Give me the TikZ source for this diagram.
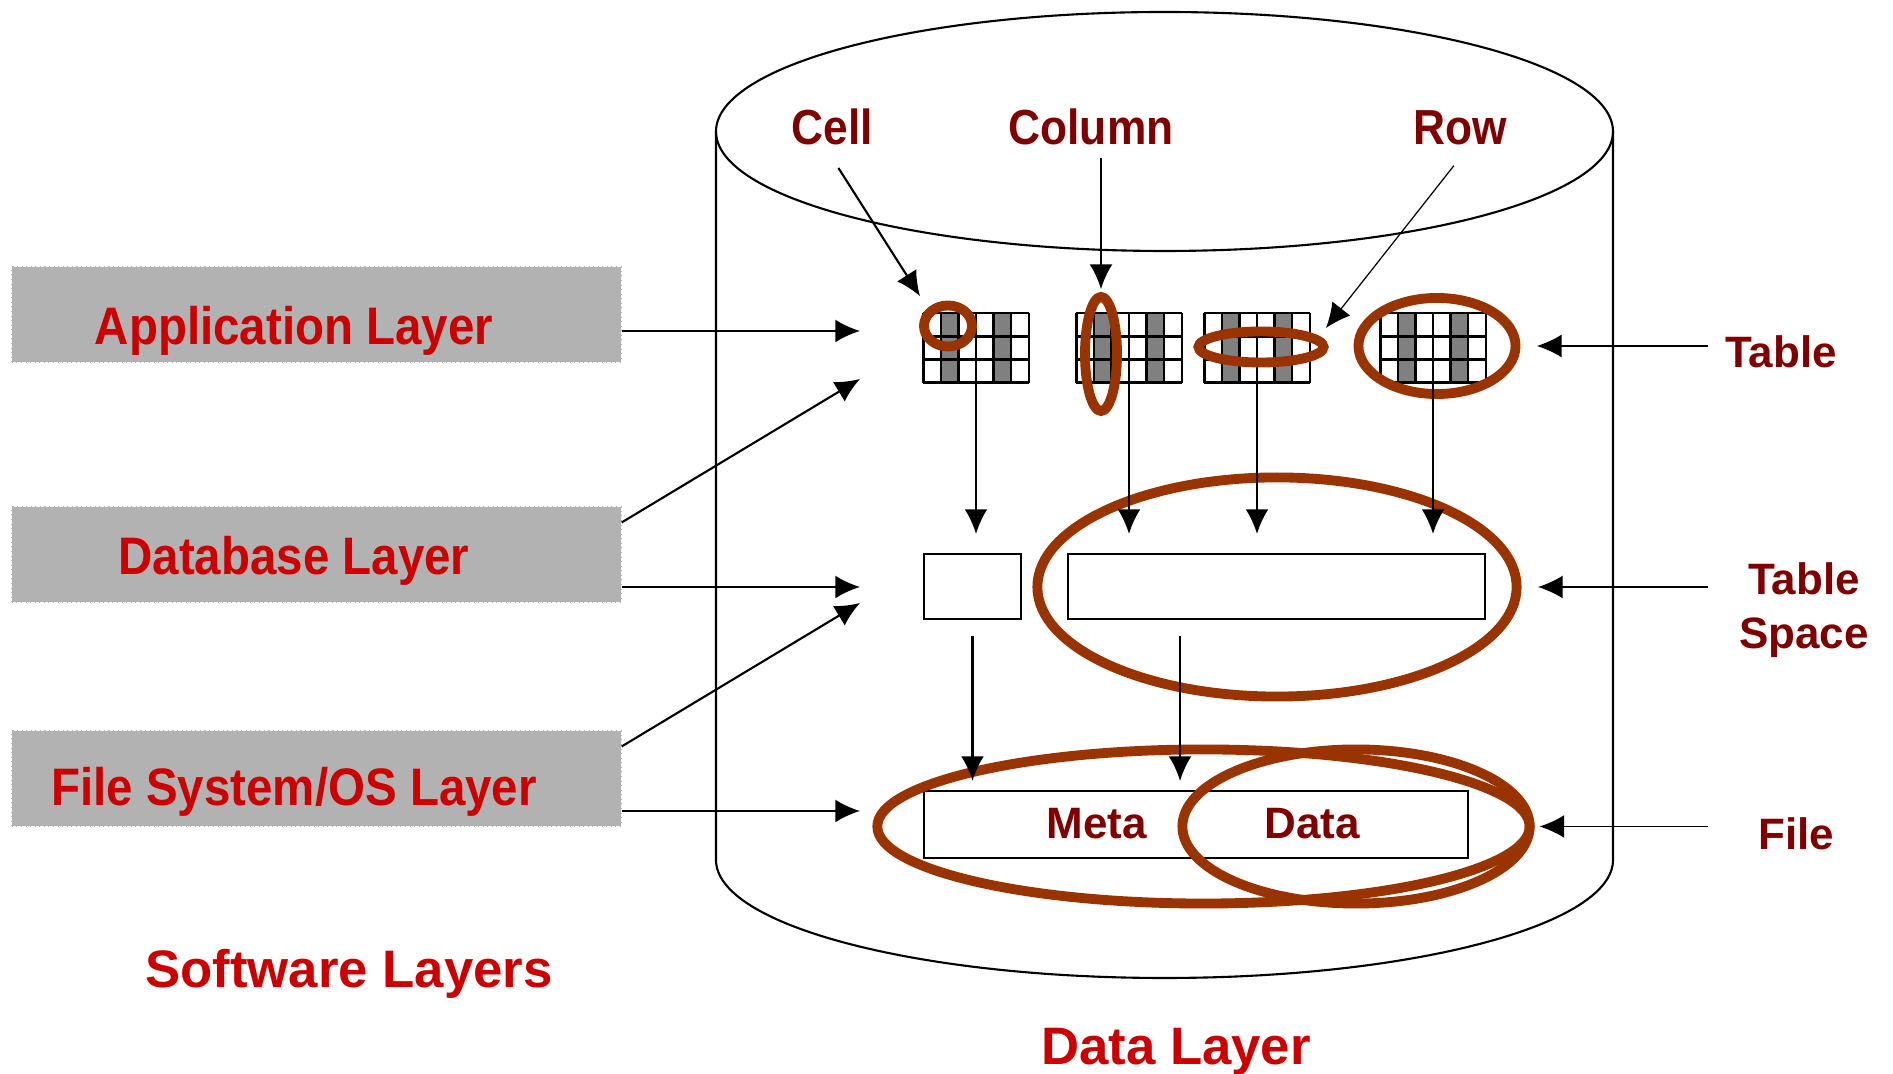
\documentclass[tikz,border=0pt]{standalone}
\usepackage{fontspec}
\setmainfont{Liberation Sans}
\newfontfamily\narrowsans[FakeStretch=0.9]{Liberation Sans}
\usepackage{xcolor}
\usetikzlibrary{arrows.meta, positioning, calc, shapes.geometric}

\definecolor{layerred}{HTML}{CC0000}
\definecolor{darkred}{HTML}{800000}
\definecolor{ringbrown}{HTML}{993300}
\definecolor{boxgray}{HTML}{B2B2B2}
\definecolor{colgray}{HTML}{808080}

\tikzstyle{arrow} = [-{Latex[length=7pt,width=6.5pt]}, line width=0.6pt]
\tikzstyle{thinarrow} = [arrow, line width=0.35pt]
\tikzstyle{cyl} = [line width=0.6pt]
\tikzstyle{layerbox} = [fill=boxgray, draw=gray!60, densely dotted, line width=0.3pt, inner sep=0pt, minimum width=6.09cm, minimum height=0.95cm]
\tikzstyle{layertext} = [text=layerred, inner sep=0pt, font=\narrowsans\bfseries\fontsize{15}{18}\selectfont]
\tikzstyle{toptext} = [text=darkred, font=\narrowsans\bfseries\fontsize{14}{17}\selectfont]
\tikzstyle{sidetext} = [text=darkred, align=center, font=\bfseries\fontsize{12.5}{15.4}\selectfont]
\tikzstyle{titletext} = [text=layerred, font=\bfseries\fontsize{15}{18}\selectfont]
\tikzstyle{tablebox} = [inner sep=0pt, minimum width=1.04cm, minimum height=0.68cm]
\tikzstyle{plainbox} = [draw, line width=0.6pt, inner sep=0pt]
\tikzstyle{ring} = [ellipse, draw=ringbrown, line width=2.8pt, inner sep=0pt]

\begin{document}
\begin{tikzpicture}[x=0.01cm, y=-0.01cm]

    \useasboundingbox (0,0) rectangle (1893,1074);

    % The cylinder
    \draw[cyl] (1164.5,131.5) ellipse [x radius=448.5, y radius=119.5];
    \draw[cyl] (716,131.5) -- (716,860)
        arc [start angle=180, end angle=0, x radius=448.5, y radius=118]
        -- (1613,131.5);

    % Software layers
    \node[layerbox] (app) at (316.5,314.5) {};
    \node[layerbox] (db) at (316.5,554.5) {};
    \node[layerbox] (fs) at (316.5,778.5) {};
    \node[layertext, anchor=base] (appText) at (294,345) {Application Layer};
    \node[layertext, anchor=base] (dbText) at (294,575) {Database Layer};
    \node[layertext, anchor=base] (fsText) at (294,806) {File System/OS Layer};

    \coordinate (appIn) at (860,331);
    \coordinate (dbUp) at (860,379);
    \coordinate (dbIn) at (860,587);
    \coordinate (fsUp) at (860,603);
    \coordinate (fsIn) at (860,811);
    \draw[arrow] (app.east |- appIn) -- (appIn);
    \draw[arrow] ($(db.north east)+(0,16)$) -- (dbUp);
    \draw[arrow] (db.east |- dbIn) -- (dbIn);
    \draw[arrow] ($(fs.north east)+(0,16)$) -- (fsUp);
    \draw[arrow] (fs.east |- fsIn) -- (fsIn);

    % The tables, 6 columns x 3 rows, 2nd and 5th column shaded
    \foreach \t/\x in {1/976, 2/1129, 3/1257, 4/1433}
        \node[tablebox] (tab\t) at (\x,348) {};
    \foreach \t in {1,...,4} {
        \fill[colgray] ($(tab\t.north west)!1/6!(tab\t.north east)$) rectangle ($(tab\t.south west)!2/6!(tab\t.south east)$);
        \fill[colgray] ($(tab\t.north west)!4/6!(tab\t.north east)$) rectangle ($(tab\t.south west)!5/6!(tab\t.south east)$);
        \foreach \c in {0,...,6}
            \draw[line width=0.7pt] ($(tab\t.north west)!\c/6!(tab\t.north east)$) -- ($(tab\t.south west)!\c/6!(tab\t.south east)$);
        \foreach \r in {0,...,3}
            \draw[line width=0.7pt] ($(tab\t.north west)!\r/3!(tab\t.south west)$) -- ($(tab\t.north east)!\r/3!(tab\t.south east)$);
    }

    % Table space and file
    \node[plainbox, minimum width=0.97cm, minimum height=0.65cm] (sbox) at (972.5,586.5) {};
    \node[plainbox, minimum width=4.17cm, minimum height=0.65cm] (tsbox) at (1276.5,586.5) {};
    \node[plainbox, minimum width=5.44cm, minimum height=0.67cm] (fbox) at (1196,824.5) {};
    \node[sidetext, anchor=base] (meta) at (1097,839) {Meta};
    \node[sidetext, anchor=base] (data) at (1312,839) {Data};

    % Rings
    \node[ring, minimum width=0.48cm, minimum height=0.41cm] (cellRing) at (948,326) {};
    \node[ring, minimum width=0.32cm, minimum height=1.14cm] (colRing) at (1101,354) {};
    \node[ring, minimum width=1.25cm, minimum height=0.31cm] (rowRing) at (1261,347) {};
    \node[ring, minimum width=1.57cm, minimum height=0.96cm] (tabRing) at (1437,346) {};
    \node[ring, minimum width=4.79cm, minimum height=2.19cm] (tsRing) at (1277,587) {};
    \node[ring, minimum width=6.52cm, minimum height=1.54cm] (fileRing) at (1203.5,826.5) {};
    \node[ring, minimum width=3.47cm, minimum height=1.54cm] (dataRing) at (1356,826.5) {};

    % Downward arrows
    \foreach \t in {1,...,4}
        \draw[arrow, shorten >=0.19cm] (tab\t.south) -- (tab\t.south |- tsbox.north);
    \coordinate (tsOut) at ($(tsbox.south west)!0.27!(tsbox.south east)$);
    \draw[arrow, shorten <=0.16cm, shorten >=0.09cm] (sbox.south) -- (sbox.south |- fbox.north);
    \draw[arrow, shorten <=0.16cm, shorten >=0.09cm] (tsOut) -- (tsOut |- fbox.north);

    % Cell, column, row
    \node[toptext, anchor=base] (cell) at (832,145) {Cell};
    \node[toptext, anchor=base] (column) at (1091,145) {Column};
    \node[toptext, anchor=base] (row) at (1460,145) {Row};
    \coordinate (rowTip) at (1326,328);
    \draw[arrow, shorten <=0.12cm, shorten >=0.14cm] (cell.south) -- (cellRing.north west);
    \draw[arrow, shorten >=0.03cm] (column.south -| colRing.north) -- (colRing.north);
    \draw[thinarrow, shorten <=0.1cm] (row.south) -- (rowTip);

    % Table, table space, file
    \node[sidetext, anchor=base] (tableLbl) at (1781,368) {Table};
    \node[sidetext] (tsLbl) at (1804,610) {Table\\Space};
    \node[sidetext, anchor=base] (fileLbl) at (1796,850) {File};
    \coordinate (lblx) at (1708,0);
    \draw[thinarrow, shorten >=0.165cm] (lblx |- tabRing.east) -- (tabRing.east);
    \draw[thinarrow, shorten >=0.165cm] (lblx |- tsRing.east) -- (tsRing.east);
    \draw[thinarrow, shorten >=0.05cm] (lblx |- fileRing.east) -- (fileRing.east);

    % Titles
    \node[titletext, anchor=base] (swLbl) at (349,988) {Software Layers};
    \node[titletext, anchor=base] (dlLbl) at (1176,1065) {Data Layer};

\end{tikzpicture}
\end{document}
